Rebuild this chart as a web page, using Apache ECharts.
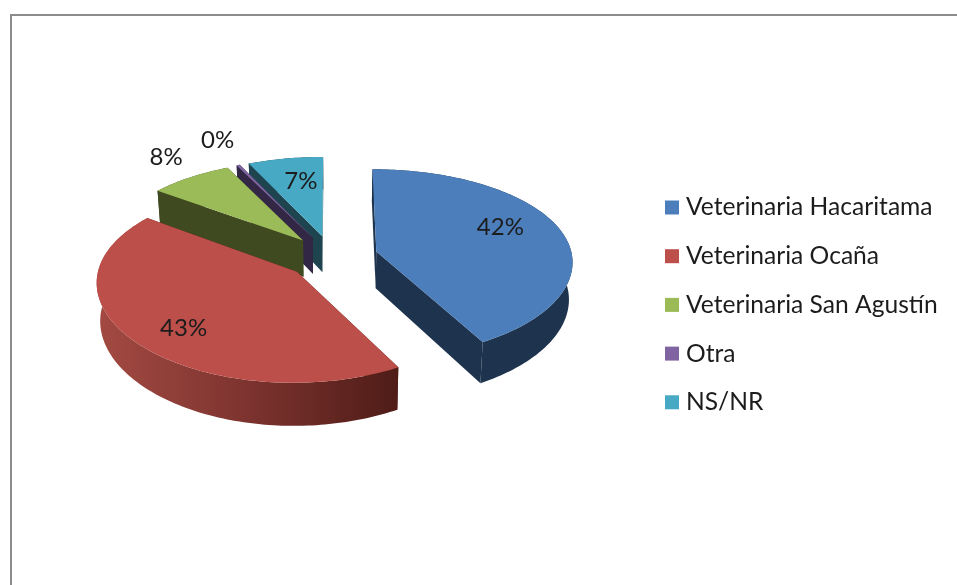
<!DOCTYPE html>
<html>
<head>
<meta charset="utf-8">
<style>
html, body { margin: 0; padding: 0; background: #fff; }
#main { width: 957px; height: 585px; }
</style>
<script src="https://cdn.jsdelivr.net/npm/echarts@6/dist/echarts.min.js"></script>
</head>
<body>
<div id="main"></div>
<script>
var categories = ['Veterinaria Hacaritama', 'Veterinaria Ocaña', 'Veterinaria San Agustín', 'Otra', 'NS/NR'];
var values = [42.0, 43.1, 7.7, 0.3, 6.9];

var topColors = ['#4c7ebb', '#bc4f4a', '#9bbb59', '#8064a2', '#48a9c5'];
var wallColors = ['#1e334d', '#4f1c17', '#3f4a20', '#322744', '#1d444f'];
var labelFractions = [0.66, 0.76, 1.2, 1.2, 0.64];
var labelNudge = [[2, -9], [8, 5], [-3, -9], [-7, -12], [3, -3]];
var drawOrder = [3, 4, 2, 1, 0]; // back to front: z of every slice

var fontName = 'Lato, "Open Sans", sans-serif';
var textColor = '#1c1c1c';

// flat pie seen in perspective
var cx = 332, cy = 257;
var radius = 196, squash = 0.4775, persp = 0.122, perspX = 0.095, explode = 46, depth = 37;

var total = values.reduce(function (a, b) { return a + b; }, 0);
var starts = [];
var acc = 0;
values.forEach(function (v) {
  starts.push(acc / total * Math.PI * 2);
  acc += v;
});

function project(x, y, low) {
  var s = 1 / (1 - persp * y / radius);
  var px = cx + x / (1 - perspX * y / radius);
  var py = cy + y * squash * s;
  if (low) {
    px = cx + (px - cx) * 0.985;
    py += depth * s;
  }
  return [px, py];
}

// world point of a slice: r along angle a, moved out along the slice's middle
function slicePoint(mid, a, r, low) {
  var x = explode * Math.sin(mid) + r * Math.sin(a);
  var y = -explode * Math.cos(mid) - r * Math.cos(a);
  return project(x, y, low);
}

function poly(points, fill) {
  return { type: 'polygon', shape: { points: points }, style: { fill: fill } };
}

function sliceItem(i) {
  return function (params, api) {
    var a0 = starts[i];
    var a1 = a0 + api.value(0) / total * Math.PI * 2;
    var mid = (a0 + a1) / 2;
    var topPts = [], rimTop = [], rimLow = [];
    var n = Math.max(2, Math.ceil((a1 - a0) / 0.02));
    for (var k = 0; k <= n; k++) {
      var a = a0 + (a1 - a0) * k / n;
      rimTop.push(slicePoint(mid, a, radius, false));
      rimLow.unshift(slicePoint(mid, a, radius, true));
    }
    var apexTop = slicePoint(mid, a0, 0, false);
    var apexLow = slicePoint(mid, a0, 0, true);
    topPts = [apexTop].concat(rimTop);

    var wall = wallColors[i];
    var rimFill = wall;
    if (i === 1) {
      rimFill = {
        type: 'linear', x: 0, y: 0, x2: 1, y2: 0,
        colorStops: [{ offset: 0, color: '#a34a42' }, { offset: 0.5, color: '#7d332f' }, { offset: 1, color: wall }]
      };
    }
    var labelPt = slicePoint(mid, mid, radius * labelFractions[i], false);
    return {
      type: 'group',
      children: [
        poly([apexTop, rimTop[0], rimLow[rimLow.length - 1], apexLow], wall),
        poly([apexTop, rimTop[n], rimLow[0], apexLow], wall),
        poly(rimTop.concat(rimLow), rimFill),
        poly(topPts, topColors[i]),
        {
          type: 'text',
          style: {
            x: labelPt[0] + labelNudge[i][0], y: labelPt[1] + labelNudge[i][1],
            text: Math.round(api.value(0)) + '%',
            fill: textColor,
            font: '24px ' + fontName,
            textAlign: 'center',
            textVerticalAlign: 'middle'
          }
        }
      ]
    };
  };
}

var series = categories.map(function (name, i) {
  return {
    name: name,
    type: 'custom',
    coordinateSystem: 'none',
    z: 2 + drawOrder[i],
    silent: true,
    itemStyle: { color: topColors[i] },
    renderItem: sliceItem(i),
    encode: { value: 0 },
    data: [[values[i]]]
  };
});

var mychart = echarts.init(document.getElementById('main'), null, { renderer: 'canvas' });
var option = {
  animation: false,
  backgroundColor: '#fff',
  legend: {
    data: categories,
    orient: 'vertical',
    left: 665,
    top: 195,
    padding: 0,
    icon: 'rect',
    itemWidth: 14,
    itemHeight: 14,
    itemGap: 23.7,
    selectedMode: false,
    textStyle: { fontFamily: fontName, fontSize: 24.6, color: textColor, padding: [0, 0, 0, 2] }
  },
  graphic: [{
    type: 'polyline',
    silent: true,
    shape: { points: [[11, 585], [11, 15], [957, 15]] },
    style: { stroke: '#8c8c8c', lineWidth: 2, fill: null }
  }],
  series: series
};
mychart.setOption(option);
</script>
</body>
</html>
